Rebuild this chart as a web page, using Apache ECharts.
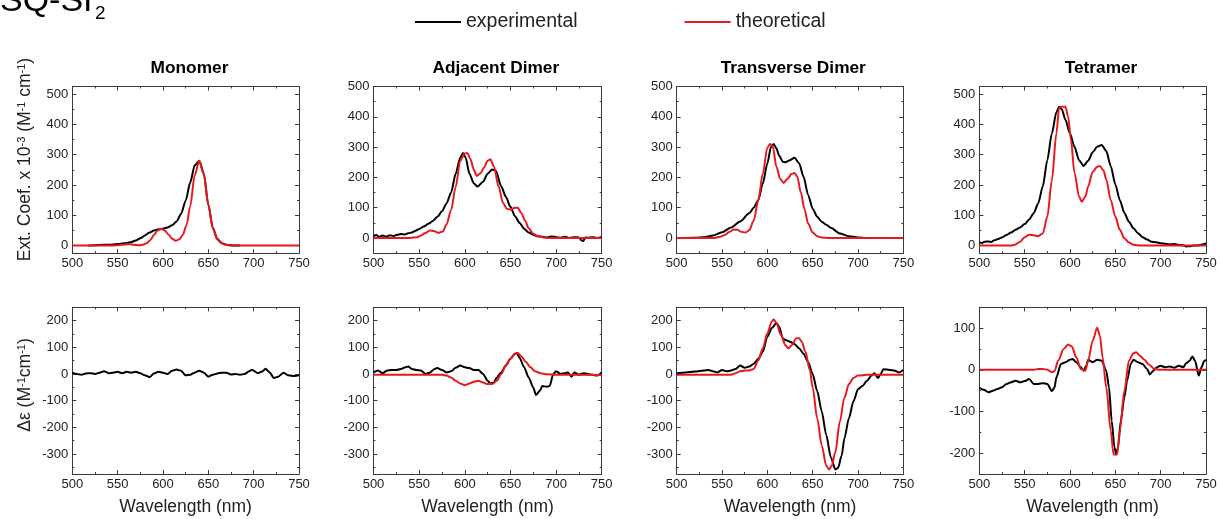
<!DOCTYPE html>
<html>
<head>
<meta charset="utf-8">
<style>
html,body{margin:0;padding:0;background:#fff;}
#chart{width:1220px;height:519px;}
</style>
<script src="https://cdn.jsdelivr.net/npm/echarts@6/dist/echarts.min.js"></script>
</head>
<body>
<div id="chart"></div>
<script>
// ---------- DATA ----------
const panelTitles = ['Monomer', 'Adjacent Dimer', 'Transverse Dimer', 'Tetramer'];
const seriesNames = ['experimental', 'theoretical'];
const xTicks = [500, 550, 600, 650, 700, 750];
const absRanges = [[-25, 525], [-50, 500], [-50, 500], [-25, 525]];
const cdRanges = [[-375, 250], [-375, 250], [-375, 250], [-250, 150]];

// absorption (Ext. Coef. x 10^-3)
const monoAbsExp = [[517,0],[530,2],[540,3],[550,5],[560,9],[565,12],[570,17],[575,24],[580,33],[585,43],[590,50],[595,54],[600,56],[605,60],[610,67],[615,80],[620,105],[625,148],[630,208],[635,265],[640,280],[645,238],[650,135],[655,58],[660,22],[665,8],[670,3],[680,0],[685,0]];
const monoAbsTheo = [[500,0],[540,0],[550,1],[558,4],[563,5],[568,3],[573,1],[578,3],[582,8],[586,18],[590,35],[594,50],[598,55],[602,50],[606,37],[610,23],[614,16],[618,21],[622,36],[626,68],[630,130],[635,232],[640,280],[645,236],[650,135],[655,56],[660,20],[665,7],[670,2],[675,0],[750,0]];
const adjAbsExp = [[500,6],[503,10],[506,4],[510,8],[514,5],[518,9],[522,7],[526,11],[530,13],[534,12],[538,16],[542,18],[546,24],[550,30],[555,38],[560,47],[565,56],[570,70],[575,88],[580,114],[585,150],[590,212],[595,265],[598,281],[601,265],[605,213],[610,180],[614,170],[620,186],[625,212],[630,226],[634,222],[640,170],[645,136],[650,103],[655,72],[660,50],[665,31],[670,18],[675,11],[680,6],[685,4],[690,2],[695,5],[700,3],[705,1],[710,4],[715,0],[720,3],[725,2],[728,-8],[730,-10],[732,2],[735,1],[740,3],[745,0],[750,4]];
const adjAbsTheo = [[500,0],[540,0],[548,3],[552,8],[556,16],[562,25],[566,23],[571,17],[576,22],[580,45],[585,92],[590,168],[595,255],[600,279],[603,280],[606,262],[610,225],[613,205],[617,213],[621,232],[625,255],[628,260],[632,236],[637,170],[642,115],[646,97],[650,94],[655,100],[658,100],[662,82],[666,58],[670,32],[675,14],[680,6],[688,1],[695,0],[750,0]];
const trAbsExp = [[500,0],[520,1],[530,3],[540,8],[550,19],[560,35],[570,55],[580,82],[585,100],[590,125],[595,180],[600,246],[604,300],[607,310],[610,296],[613,272],[617,252],[620,250],[625,257],[630,265],[635,247],[640,202],[645,142],[650,97],[655,70],[660,54],[665,44],[670,34],[680,15],[690,6],[700,2],[710,0],[750,0]];
const trAbsTheo = [[500,0],[540,0],[548,4],[553,10],[558,20],[563,28],[567,27],[571,21],[576,18],[580,26],[585,58],[590,125],[595,213],[600,298],[603,310],[606,302],[610,236],[614,196],[618,182],[622,195],[627,212],[630,215],[633,203],[637,150],[641,95],[645,48],[650,18],[655,6],[660,2],[668,0],[750,0]];
const tetAbsExp = [[500,11],[503,9],[506,13],[510,14],[513,12],[516,17],[520,21],[525,27],[530,35],[535,43],[540,52],[545,60],[550,71],[555,86],[560,107],[565,140],[570,195],[575,282],[580,370],[585,440],[588,458],[591,450],[595,415],[600,370],[605,326],[610,282],[615,263],[620,280],[625,308],[630,326],[635,332],[640,312],[645,262],[650,202],[655,150],[660,108],[665,79],[670,57],[675,41],[680,28],[685,20],[690,13],[695,11],[700,8],[705,6],[710,4],[715,5],[720,2],[725,1],[728,-3],[732,-2],[736,0],[740,0],[744,2],[748,5],[750,8]];
const tetAbsTheo = [[500,0],[535,0],[540,4],[545,13],[550,28],[555,36],[560,34],[565,31],[570,40],[575,95],[580,215],[585,370],[588,455],[591,458],[595,458],[598,425],[601,350],[605,240],[610,162],[613,145],[617,162],[620,195],[625,243],[630,260],[633,263],[637,248],[640,218],[645,150],[650,96],[655,52],[660,24],[665,10],[670,3],[678,0],[750,0]];

// circular dichroism (Δε)
const monoCdExp = [[500,5],[505,0],[510,-3],[515,2],[520,3],[525,0],[530,5],[535,10],[540,3],[545,5],[550,8],[555,3],[560,8],[565,5],[570,8],[575,3],[580,-5],[585,-12],[590,2],[595,8],[600,5],[605,0],[610,12],[615,17],[620,12],[625,-5],[630,-3],[635,5],[640,12],[645,5],[650,-10],[655,-3],[660,2],[665,5],[670,5],[675,-2],[680,0],[685,-3],[690,0],[695,10],[698,16],[705,3],[710,10],[713,20],[718,5],[722,-15],[727,-10],[733,5],[738,-5],[745,-8],[750,-5]];
const adjCdExp = [[500,6],[505,13],[510,3],[515,13],[520,15],[525,15],[530,19],[535,25],[538,28],[542,19],[547,15],[552,13],[557,0],[562,6],[567,19],[570,22],[575,15],[580,6],[585,10],[590,23],[595,32],[600,25],[605,22],[610,15],[615,15],[620,0],[625,-25],[628,-36],[632,-32],[635,-13],[640,6],[645,32],[650,57],[655,76],[657,79],[660,61],[665,25],[670,-13],[675,-51],[678,-79],[682,-64],[685,-45],[690,-48],[693,-45],[697,0],[700,10],[705,0],[710,3],[713,6],[717,-10],[720,6],[725,-3],[730,3],[735,0],[740,-3],[745,-6],[750,6]];
const adjCdTheo = [[500,-3],[575,-3],[580,-6],[585,-13],[590,-25],[595,-36],[600,-42],[605,-36],[610,-29],[615,-25],[620,-32],[625,-38],[630,-38],[635,-25],[640,0],[645,32],[650,57],[655,76],[658,79],[662,66],[667,45],[672,25],[677,10],[683,3],[690,-1],[700,-3],[750,-4]];
const trCdExp = [[500,3],[510,6],[520,9],[530,13],[535,15],[540,10],[545,6],[550,15],[555,10],[560,13],[565,19],[570,32],[575,23],[580,28],[585,38],[590,57],[595,83],[600,140],[605,172],[610,191],[613,178],[617,134],[620,127],[625,121],[630,112],[635,96],[640,76],[645,45],[650,0],[655,-64],[660,-140],[665,-229],[670,-312],[675,-358],[678,-352],[682,-306],[685,-242],[690,-166],[695,-102],[700,-57],[705,-45],[710,-25],[715,-6],[718,3],[722,-15],[725,0],[728,18],[735,15],[740,13],[745,6],[750,15]];
const trCdTheo = [[500,-3],[560,-3],[565,3],[570,10],[575,13],[580,13],[585,19],[590,51],[595,96],[600,153],[605,197],[607,204],[610,191],[615,146],[620,108],[623,96],[627,108],[632,134],[635,134],[638,121],[642,83],[647,13],[650,-51],[655,-166],[660,-268],[665,-344],[668,-358],[671,-345],[675,-293],[680,-178],[685,-89],[690,-38],[695,-15],[700,-6],[710,-3],[750,-3]];
const tetCdExp = [[500,-43],[505,-48],[510,-54],[515,-50],[520,-46],[525,-42],[530,-34],[535,-30],[540,-26],[545,-30],[550,-27],[555,-22],[560,-34],[565,-34],[570,-32],[575,-34],[580,-51],[583,-42],[585,-18],[590,14],[595,18],[600,24],[603,26],[607,18],[612,6],[615,-2],[618,10],[620,24],[625,18],[630,24],[635,22],[640,-2],[643,-42],[646,-122],[649,-186],[651,-203],[653,-186],[656,-122],[660,-66],[663,-26],[667,14],[670,24],[675,18],[680,14],[685,2],[688,-11],[692,-2],[695,5],[700,10],[705,6],[710,8],[715,5],[720,10],[725,6],[728,16],[732,22],[735,32],[738,21],[742,-14],[745,6],[748,21],[750,24]];
const tetCdTheo = [[500,0],[560,0],[565,2],[570,2],[575,0],[580,-6],[583,-3],[587,22],[593,50],[598,61],[602,56],[607,30],[612,2],[617,-2],[620,22],[625,70],[630,101],[633,82],[636,30],[640,-42],[645,-146],[648,-203],[652,-203],[655,-146],[660,-50],[665,22],[670,40],[673,42],[677,34],[682,24],[687,13],[693,2],[700,0],[750,0]];

const absExp = [monoAbsExp, adjAbsExp, trAbsExp, tetAbsExp];
const absTheo = [monoAbsTheo, adjAbsTheo, trAbsTheo, tetAbsTheo];
const cdExp = [monoCdExp, adjCdExp, trCdExp, tetCdExp];
const cdTheo = [null, adjCdTheo, trCdTheo, tetCdTheo];

// ---------- LAYOUT ----------
const FONT = 'Liberation Sans, Arial, Helvetica, sans-serif';
const BLACK = '#000000';
const RED = '#e8191e';
const AXIS = '#3a3a3a';
const LABEL = '#222222';
const lefts = [72.3, 373.5, 676.7, 979.3];
const widths = [226.7, 228.2, 226.6, 226.7];
const titleCenters = [189.5, 495.8, 793.3, 1101];
const rowTop = [86.5, 307.3];
const rowH = [166.7, 166.7];

const grid = [], xAxis = [], yAxis = [], series = [], titles = [];

function addPanel(row, col, range, expData, theoData) {
  const gi = grid.length;
  grid.push({left: lefts[col], top: rowTop[row], width: widths[col], height: rowH[row], containLabel: false});
  const lineStyle = {color: AXIS, width: 1};
  const tick = {show: true, inside: true, length: 4, lineStyle: {color: AXIS}};
  const minor = {show: true, splitNumber: 2, length: 2, lineStyle: {color: AXIS}};
  const labelStyle = {fontFamily: FONT, fontSize: 13, color: LABEL};
  xAxis.push({
    type: 'value', gridIndex: gi, min: 500, max: 750, interval: 50, position: 'bottom',
    axisLine: {show: true, onZero: false, lineStyle}, axisTick: tick, minorTick: minor,
    splitLine: {show: false},
    axisLabel: Object.assign({margin: 4}, labelStyle),
    name: row === 1 ? 'Wavelength (nm)' : '', nameLocation: 'middle', nameGap: 24,
    nameTextStyle: {fontFamily: FONT, fontSize: 17.5, color: LABEL}
  });
  const xi = xAxis.length - 1;
  xAxis.push({
    type: 'value', gridIndex: gi, min: 500, max: 750, interval: 50, position: 'top',
    axisLine: {show: true, onZero: false, lineStyle}, axisTick: tick, minorTick: minor,
    splitLine: {show: false}, axisLabel: {show: false}
  });
  const maxIsTick = range[1] % 100 === 0;
  yAxis.push({
    type: 'value', gridIndex: gi, min: range[0], max: range[1], splitNumber: 5, position: 'left',
    axisLine: {show: true, onZero: false, lineStyle}, axisTick: tick, minorTick: minor,
    splitLine: {show: false},
    axisLabel: Object.assign({margin: 4, showMinLabel: false, showMaxLabel: maxIsTick}, labelStyle)
  });
  const yi = yAxis.length - 1;
  yAxis.push({
    type: 'value', gridIndex: gi, min: range[0], max: range[1], splitNumber: 5, position: 'right',
    axisLine: {show: true, onZero: false, lineStyle}, axisTick: tick, minorTick: minor,
    splitLine: {show: false}, axisLabel: {show: false}
  });
  if (expData) {
    series.push({
      name: seriesNames[0], type: 'line', xAxisIndex: xi, yAxisIndex: yi, data: expData,
      showSymbol: false, symbol: 'none', smooth: 0.25, smoothMonotone: 'x',
      lineStyle: {color: BLACK, width: 2}, itemStyle: {color: BLACK}, z: 2, animation: false
    });
  }
  if (theoData) {
    series.push({
      name: seriesNames[1], type: 'line', xAxisIndex: xi, yAxisIndex: yi, data: theoData,
      showSymbol: false, symbol: 'none', smooth: 0.3, smoothMonotone: 'x',
      lineStyle: {color: RED, width: 2}, itemStyle: {color: RED}, z: 3, animation: false
    });
  }
}

for (let c = 0; c < 4; c++) {
  addPanel(0, c, absRanges[c], absExp[c], absTheo[c]);
  addPanel(1, c, cdRanges[c], cdExp[c], cdTheo[c]);
  titles.push({
    text: panelTitles[c], left: titleCenters[c], top: 60, textAlign: 'center', padding: 0,
    textStyle: {fontFamily: FONT, fontSize: 17.3, fontWeight: 'bold', color: '#000'}
  });
}

const option = {
  backgroundColor: '#ffffff',
  animation: false,
  title: titles,
  legend: {
    data: seriesNames.map(n => ({name: n, icon: 'rect'})),
    left: 415, top: 12, itemWidth: 46, itemHeight: 2, itemGap: 107,
    padding: 0,
    textStyle: {fontFamily: FONT, fontSize: 19.5, color: LABEL}
  },
  grid, xAxis, yAxis, series,
  graphic: [
    {type: 'text', x: 0, y: 1.8,
     style: {text: 'SQ-SI', fontFamily: FONT, fontSize: 34, fill: '#000', align: 'left', verticalAlign: 'middle'}},
    {type: 'text', x: 95, y: 13.5,
     style: {text: '2', fontFamily: FONT, fontSize: 19, fill: '#000', align: 'left', verticalAlign: 'middle'}},
    {type: 'text', x: 25, y: 159.5, rotation: Math.PI / 2,
     style: {
       text: '{a|Ext. Coef. x 10}{s|-3}{a| (M}{s|-1}{a| cm}{s|-1}{a|)}',
       align: 'center', verticalAlign: 'middle', fill: LABEL,
       rich: {
         a: {fontFamily: FONT, fontSize: 17.5, fill: LABEL},
         s: {fontFamily: FONT, fontSize: 11, fill: LABEL, verticalAlign: 'top'}
       }
     }},
    {type: 'text', x: 25, y: 385, rotation: Math.PI / 2,
     style: {
       text: '{a|Δε (M}{s|-1}{a|cm}{s|-1}{a|)}',
       align: 'center', verticalAlign: 'middle', fill: LABEL,
       rich: {
         a: {fontFamily: FONT, fontSize: 17.5, fill: LABEL},
         s: {fontFamily: FONT, fontSize: 11, fill: LABEL, verticalAlign: 'top'}
       }
     }}
  ]
};

const chart = echarts.init(document.getElementById('chart'), null, {renderer: 'canvas'});
chart.setOption(option);
</script>
</body>
</html>
